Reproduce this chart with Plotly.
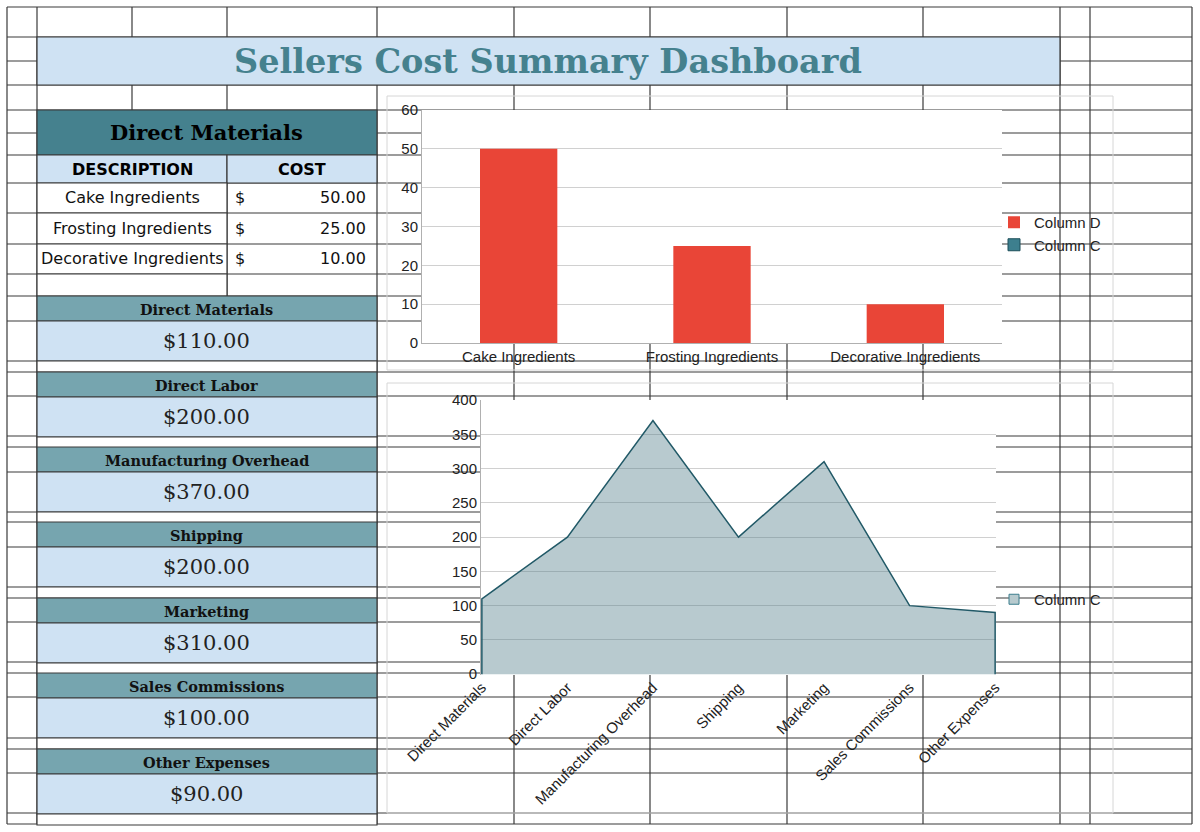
import plotly.graph_objects as go

W, H = 1200, 832

# ---------------- data ----------------
title_text = "Sellers Cost Summary Dashboard"
section_title = "Direct Materials"
table_headers = ["DESCRIPTION", "COST"]
materials = ["Cake Ingredients", "Frosting Ingredients", "Decorative Ingredients"]
material_costs = [50, 25, 10]
bar_column_c = [None, None, None]
cost_categories = ["Direct Materials", "Direct Labor", "Manufacturing Overhead",
                   "Shipping", "Marketing", "Sales Commissions", "Other Expenses"]
cost_values = [110, 200, 370, 200, 310, 100, 90]
bar_y_ticks = [0, 10, 20, 30, 40, 50, 60]
area_y_ticks = [0, 50, 100, 150, 200, 250, 300, 350, 400]

# ---------------- helpers ----------------
def px(x):
    return x / W

def py(y):
    return 1 - y / H

shapes = []
annotations = []
LINE = "#3a3a3a"

def rect(x0, y0, x1, y1, fill, line=LINE, lw=1.2):
    shapes.append(dict(type="rect", xref="paper", yref="paper",
                       x0=px(x0), x1=px(x1), y0=py(y1), y1=py(y0),
                       fillcolor=fill, line=dict(color=line, width=lw), layer="below"))

def seg(x0, y0, x1, y1, color=LINE, lw=1.2):
    shapes.append(dict(type="line", xref="paper", yref="paper",
                       x0=px(x0), x1=px(x1), y0=py(y0), y1=py(y1),
                       line=dict(color=color, width=lw), layer="below"))

def text(x, y, s, size, family="DejaVu Sans", color="#111", xanchor="center"):
    annotations.append(dict(x=px(x), y=py(y), xref="paper", yref="paper", text=s,
                            showarrow=False, xanchor=xanchor, yanchor="middle",
                            font=dict(family=family, size=size, color=color)))

# ---------------- spreadsheet grid ----------------
col_x = [7, 37, 132, 227, 377, 514, 650, 787, 923, 1060, 1090, 1192]
row_y = [7, 37, 61, 85, 110, 133, 155, 183, 213, 244, 274, 296, 321, 361, 372,
         396, 436, 447, 472, 512, 522, 547, 587, 598, 622, 662, 673, 697, 738,
         749, 773, 813, 824]
for x in col_x:
    seg(x, 7, x, 824)
for y in row_y:
    seg(7, y, 1192, y)

# merged cells
rect(37, 37, 1060, 85, "#cfe2f3")
rect(37, 110, 377, 155, "#45818e")
rect(37, 155, 227, 183, "#cfe2f3")
rect(227, 155, 377, 183, "#cfe2f3")
for y0, y1 in [(183, 213), (213, 244), (244, 274), (274, 296)]:
    rect(37, y0, 227, y1, "white")

block_top = [296, 372, 447, 522, 598, 673, 749]
for t in block_top:
    rect(37, t, 377, t + 25, "#76a5af")
    rect(37, t + 25, 377, t + 65, "#cfe2f3")
    rect(37, t + 65, 377, t + 76, "white")

# chart plot-area backgrounds (cover sheet lines)
rect(422, 110, 1002, 343, "white", line="rgba(0,0,0,0)", lw=0)
rect(481, 400, 996, 675, "white", line="rgba(0,0,0,0)", lw=0)
# chart frames
rect(387, 96, 1113, 370, "rgba(0,0,0,0)", line="#d6d6d6", lw=1)
rect(387, 383, 1113, 813, "rgba(0,0,0,0)", line="#d6d6d6", lw=1)

# ---------------- texts ----------------
text(548, 62, "<b>" + title_text + "</b>", 33.5, family="DejaVu Serif", color="#45818e")
text(207, 133, "<b>" + section_title + "</b>", 21, family="DejaVu Serif", color="#000")
text(132, 169, "<b>" + table_headers[0] + "</b>", 16, color="#000")
text(302, 169, "<b>" + table_headers[1] + "</b>", 16, color="#000")
row_mid = [198, 228, 259]
for name, cost, ym in zip(materials, material_costs, row_mid):
    text(132, ym, name, 16, color="#111")
    text(233, ym, "$", 16, color="#111", xanchor="left")
    text(368, ym, f"{cost:.2f}", 16, color="#111", xanchor="right")
for t, name, val in zip(block_top, cost_categories, cost_values):
    text(207, t + 13, "<b>" + name + "</b>", 14.5, family="DejaVu Serif", color="#111")
    text(207, t + 45, f"${val:,.2f}", 21, family="DejaVu Serif", color="#222")

# ---------------- charts ----------------
fig = go.Figure()
fig.add_trace(go.Bar(x=materials, y=material_costs, name="Column D",
                     marker=dict(color="#e94537", line=dict(width=0)), width=0.4,
                     xaxis="x", yaxis="y", legend="legend"))
fig.add_trace(go.Bar(x=materials, y=bar_column_c, name="Column C",
                     marker=dict(color="#3d7f8e", line=dict(color="#1d4f5a", width=1)),
                     width=0.4, xaxis="x", yaxis="y", legend="legend"))

area_x = [cost_categories[0]] + cost_categories + [cost_categories[-1]]
area_y = [0] + cost_values + [0]
fig.add_trace(go.Scatter(x=area_x, y=area_y, mode="lines", fill="toself",
                         fillcolor="rgba(78,123,135,0.40)",
                         line=dict(color="#215967", width=1.5),
                         name="Column C", xaxis="x2", yaxis="y2", legend="legend2",
                         showlegend=False, hoverinfo="skip"))
# legend entry for the area series (square swatch, as in the reference)
fig.add_trace(go.Scatter(x=[None], y=[None], mode="markers", name="Column C",
                         marker=dict(symbol="square", size=10, color="#b7cace",
                                     line=dict(color="#3d7f8e", width=1)),
                         xaxis="x2", yaxis="y2", legend="legend2", hoverinfo="skip"))

tick_font = dict(family="Liberation Sans", size=15, color="#222")
leg_font = dict(family="Liberation Sans", size=15, color="#222")
fig.update_layout(
    width=W, height=H, margin=dict(l=0, r=0, t=0, b=0, pad=0, autoexpand=False),
    paper_bgcolor="white", plot_bgcolor="rgba(0,0,0,0)",
    barmode="overlay", showlegend=True,
    shapes=shapes, annotations=annotations,
    xaxis=dict(domain=[px(422), px(1002)], anchor="y", type="category",
               showgrid=False, showline=True, linecolor="#b0b0b0", linewidth=1,
               tickfont=tick_font, ticks="", fixedrange=True, automargin=False),
    yaxis=dict(domain=[py(343), py(110)], anchor="x", range=[0, 60],
               tickvals=bar_y_ticks, showgrid=True, gridcolor="#d0d0d0", gridwidth=1,
               showline=True, linecolor="#b0b0b0", linewidth=1, zeroline=False,
               tickfont=tick_font, ticks="", fixedrange=True, automargin=False),
    xaxis2=dict(domain=[px(481), px(996)], anchor="y2", type="category",
                categoryorder="array", categoryarray=cost_categories,
                range=[-0.01, 6.01], showgrid=False, showline=False,
                tickangle=-45, tickfont=tick_font, ticks="", fixedrange=True,
                automargin=False),
    yaxis2=dict(domain=[py(675), py(400)], anchor="x2", range=[-1.2, 400],
                tickvals=area_y_ticks, showgrid=True, gridcolor="#d0d0d0", gridwidth=1,
                showline=True, linecolor="#b0b0b0", linewidth=1, zeroline=False,
                tickfont=tick_font, ticks="", fixedrange=True, automargin=False),
    legend=dict(x=px(994), y=py(206), xanchor="left", yanchor="top",
                bgcolor="rgba(0,0,0,0)", traceorder="normal", font=leg_font,
                tracegroupgap=0, itemclick=False, itemdoubleclick=False),
    legend2=dict(x=px(994), y=py(583), xanchor="left", yanchor="top",
                 bgcolor="rgba(0,0,0,0)", font=leg_font,
                 itemclick=False, itemdoubleclick=False),
)

fig.write_html("out.html")
